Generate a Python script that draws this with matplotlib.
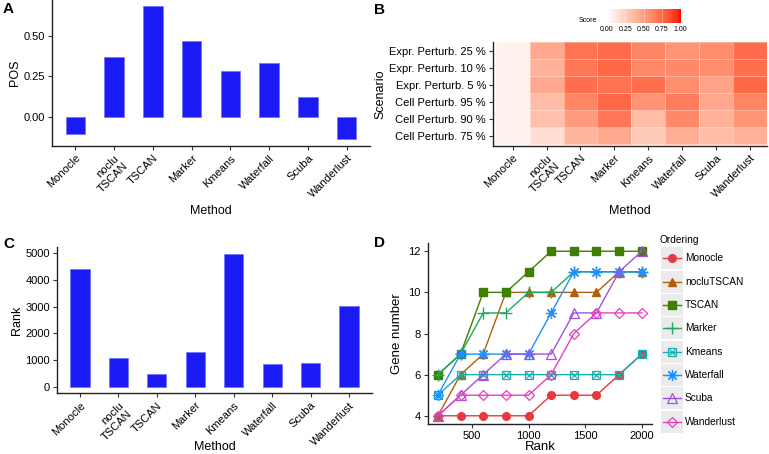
import numpy as np
import matplotlib
matplotlib.use("Agg")
import matplotlib.pyplot as plt
from matplotlib.colors import ListedColormap
from matplotlib.patches import Rectangle

plt.rcParams['font.family'] = ['Liberation Sans', 'DejaVu Sans']

# ---------------- data ----------------
methods = ['Monocle', 'noclu\nTSCAN', 'TSCAN', 'Marker', 'Kmeans', 'Waterfall', 'Scuba', 'Wanderlust']
pos_values = [-0.105, 0.37, 0.68, 0.47, 0.283, 0.332, 0.123, -0.14]
rank_values = [4400, 1060, 475, 1300, 4990, 860, 875, 3010]

scenarios = ['Expr. Perturb. 25 %', 'Expr. Perturb. 10 %', 'Expr. Perturb. 5 %',
             'Cell Perturb. 95 %', 'Cell Perturb. 90 %', 'Cell Perturb. 75 %']
score_expr25 = [0.07, 0.45, 0.70, 0.73, 0.62, 0.55, 0.58, 0.73]
score_expr10 = [0.07, 0.40, 0.68, 0.75, 0.60, 0.60, 0.58, 0.72]
score_expr5 = [0.07, 0.45, 0.72, 0.70, 0.72, 0.58, 0.48, 0.75]
score_cell95 = [0.07, 0.35, 0.62, 0.75, 0.55, 0.66, 0.45, 0.62]
score_cell90 = [0.07, 0.33, 0.52, 0.68, 0.35, 0.60, 0.40, 0.55]
score_cell75 = [0.07, 0.17, 0.38, 0.45, 0.28, 0.42, 0.35, 0.40]

ranks = [200, 400, 600, 800, 1000, 1200, 1400, 1600, 1800, 2000]
orderings = ['Monocle', 'nocluTSCAN', 'TSCAN', 'Marker', 'Kmeans', 'Waterfall', 'Scuba', 'Wanderlust']
gene_monocle = [4, 4, 4, 4, 4, 5, 5, 5, 6, 7]
gene_noclutscan = [4, 6, 7, 10, 10, 10, 10, 10, 11, 11]
gene_tscan = [6, 7, 10, 10, 11, 12, 12, 12, 12, 12]
gene_marker = [6, 7, 9, 9, 10, 10, 11, 11, 11, 11]
gene_kmeans = [5, 6, 6, 6, 6, 6, 6, 6, 6, 7]
gene_waterfall = [5, 7, 7, 7, 7, 9, 11, 11, 11, 11]
gene_scuba = [4, 5, 6, 7, 7, 7, 9, 9, 11, 12]
gene_wanderlust = [4, 5, 5, 5, 5, 6, 8, 9, 9, 9]

# ---------------- styles ----------------
W, H = 769, 454
BAR = '#1a1af5'
line_colors = ['#e8383d', '#b0600a', '#3f7f00', '#1fa85f', '#18aeb0', '#1e90ff', '#a050e0', '#e83fc0']


def lab_gradient(n=256):
    L0, a0, b0 = 100.0, 0.0, 0.0
    L1, a1, b1 = 53.24, 80.09, 67.20
    t = np.linspace(0, 1, n)
    L = L0 + (L1 - L0) * t
    a = a0 + (a1 - a0) * t
    b = b0 + (b1 - b0) * t
    fy = (L + 16) / 116
    fx = fy + a / 500
    fz = fy - b / 200
    d = 6 / 29

    def finv(v):
        return np.where(v > d, v ** 3, 3 * d * d * (v - 4 / 29))
    X = 0.95047 * finv(fx)
    Y = finv(fy)
    Z = 1.08883 * finv(fz)
    M = np.array([[3.2406, -1.5372, -0.4986], [-0.9689, 1.8758, 0.0415], [0.0557, -0.2040, 1.0570]])
    rgb = M @ np.vstack([X, Y, Z])
    rgb = np.clip(rgb, 0, 1)
    rgb = np.where(rgb > 0.0031308, 1.055 * rgb ** (1 / 2.4) - 0.055, 12.92 * rgb)
    return ListedColormap(np.clip(rgb.T, 0, 1))


cmap = lab_gradient()


def axes_px(x0, y0, x1, y1):
    return fig.add_axes([x0 / W, 1 - y1 / H, (x1 - x0) / W, (y1 - y0) / H])


def style_axes(ax):
    for s in ['top', 'right']:
        ax.spines[s].set_visible(False)
    for s in ['left', 'bottom']:
        ax.spines[s].set_linewidth(1.0)
        ax.spines[s].set_color('#222222')
    ax.tick_params(direction='out', length=3, width=0.8, color='#333333', labelsize=8, pad=2)


fig = plt.figure(figsize=(W / 100, H / 100), dpi=100)

# ---------------- panel A ----------------
axA = axes_px(52, 0, 370, 146)
x = np.arange(len(methods))
axA.bar(x, pos_values, width=0.5, color=BAR, edgecolor='#6f6ff8', linewidth=0.5)
axA.set_xlim(-0.6, len(methods) - 0.4)
axA.set_ylim(-0.181, 0.72)
axA.set_yticks([0.0, 0.25, 0.5])
axA.set_yticklabels(['0.00', '0.25', '0.50'])
axA.set_xticks(x)
axA.set_xticklabels(methods, rotation=45, ha='right', va='top', rotation_mode='anchor')
style_axes(axA)
axA.set_xlabel('Method', fontsize=9, labelpad=4)
axA.set_ylabel('POS', fontsize=9, labelpad=2)
fig.text(3 / W, 1 - 9 / H, 'A', fontsize=11, fontweight='bold', va='center', ha='left')

# ---------------- panel B ----------------
axB = axes_px(493, 42, 767, 146)
Z = np.array([score_cell75, score_cell90, score_cell95, score_expr5, score_expr10, score_expr25])
axB.pcolormesh(np.arange(len(methods) + 1) - 0.5, np.arange(len(scenarios) + 1) - 0.5, Z,
               cmap=cmap, vmin=0, vmax=1, edgecolors=(1, 1, 1, 0.35), linewidth=0.4)
axB.set_xlim(-0.58, len(methods) - 0.5)
axB.set_ylim(-0.6, len(scenarios) - 0.5)
axB.set_xticks(x)
axB.set_xticklabels(methods, rotation=45, ha='right', va='top', rotation_mode='anchor')
axB.set_yticks(np.arange(len(scenarios)))
axB.set_yticklabels(scenarios[::-1])
style_axes(axB)
axB.set_xlabel('Method', fontsize=9, labelpad=4)
axB.set_ylabel('Scenario', fontsize=9, labelpad=2)
fig.text(374 / W, 1 - 10 / H, 'B', fontsize=11, fontweight='bold', va='center', ha='left')

# colorbar
cax = axes_px(607, 8.5, 680, 23)
grad = np.linspace(0, 1, 256).reshape(1, -1)
cax.imshow(grad, cmap=cmap, aspect='auto', extent=[0, 1, 0, 1])
for v in [0.25, 0.5, 0.75]:
    cax.axvline(v, color='white', lw=0.4, alpha=0.6)
cax.set_xlim(0, 1)
cax.set_ylim(0, 1)
cax.set_yticks([])
cax.set_xticks([0, 0.25, 0.5, 0.75, 1.0])
cax.set_xticklabels(['0.00', '0.25', '0.50', '0.75', '1.00'])
cax.tick_params(length=0, labelsize=5, pad=2)
for s in cax.spines.values():
    s.set_visible(False)
fig.text(597 / W, 1 - 20.5 / H, 'Score', fontsize=5, ha='right', va='center')

# ---------------- panel C ----------------
axC = axes_px(57, 246.7, 372, 393.3)
axC.bar(x, rank_values, width=0.5, color=BAR, edgecolor='#6f6ff8', linewidth=0.5)
axC.set_xlim(-0.6, len(methods) - 0.4)
axC.set_ylim(-250, 5250)
axC.set_yticks([0, 1000, 2000, 3000, 4000, 5000])
axC.set_xticks(x)
axC.set_xticklabels(methods, rotation=45, ha='right', va='top', rotation_mode='anchor')
style_axes(axC)
axC.set_xlabel('Method', fontsize=9)
axC.xaxis.set_label_coords(0.5, (393.3 - 441.5) / 146.6)
axC.set_ylabel('Rank', fontsize=9, labelpad=2)
fig.text(3 / W, 1 - 244 / H, 'C', fontsize=11, fontweight='bold', va='center', ha='left')

# ---------------- panel D ----------------
D_TOP, D_BOT = 243, 424
axD = axes_px(427.7, D_TOP, 652, D_BOT)
gene_series = [gene_monocle, gene_noclutscan, gene_tscan, gene_marker,
               gene_kmeans, gene_waterfall, gene_scuba, gene_wanderlust]
mk = [dict(marker='o', mfc=None, ms=5.5),
      dict(marker='^', mfc=None, ms=6),
      dict(marker='s', mfc=None, ms=5.5),
      dict(marker='+', mfc=None, ms=8, mew=1.0),
      dict(marker='s', mfc='none', ms=6, mew=0.9),
      dict(marker=(8, 2, 0), mfc=None, ms=8, mew=0.9),
      dict(marker='^', mfc='none', ms=7, mew=0.9),
      dict(marker='D', mfc='none', ms=5.5, mew=0.9)]
for ys, c, m in zip(gene_series, line_colors, mk):
    kw = dict(m)
    if kw['mfc'] is None:
        kw.pop('mfc')
    axD.plot(ranks, ys, color=c, lw=1.0, **kw)
    if c == line_colors[4]:
        axD.plot(ranks, ys, color=c, lw=0, marker='x', ms=4.5, mew=0.9)
axD.set_xlim(110, 2090)
axD.set_ylim(3.6, 12.4)
axD.set_xticks([500, 1000, 1500, 2000])
axD.set_yticks([4, 6, 8, 10, 12])
style_axes(axD)
axD.set_xlabel('Rank', fontsize=9.5)
axD.xaxis.set_label_coords(0.5, (D_BOT - 441.0) / (D_BOT - D_TOP))
axD.set_ylabel('Gene number', fontsize=9.5, labelpad=4)
fig.text(374 / W, 1 - 243 / H, 'D', fontsize=11, fontweight='bold', va='center', ha='left')

# legend
axL = axes_px(660, 246.7, 769, 433.3)
axL.set_xlim(0, 109)
axL.set_ylim(len(orderings), 0)
axL.axis('off')
for i, (name, c, m) in enumerate(zip(orderings, line_colors, mk)):
    axL.add_patch(Rectangle((0.5, i + 0.03), 22, 0.94, facecolor='#ebebeb', edgecolor='none'))
    kw = dict(m)
    if kw['mfc'] is None:
        kw.pop('mfc')
    axL.plot([2.5, 20.5], [i + 0.5, i + 0.5], color=c, lw=1.0)
    axL.plot([11.5], [i + 0.5], color=c, lw=0, **kw)
    if i == 4:
        axL.plot([11.5], [i + 0.5], color=c, lw=0, marker='x', ms=4.5, mew=0.9)
    axL.text(25, i + 0.5, name, fontsize=7.3, va='center', ha='left')
fig.text(660 / W, 1 - 240 / H, 'Ordering', fontsize=7.3, ha='left', va='center')

fig.savefig('out.png', dpi=100)
